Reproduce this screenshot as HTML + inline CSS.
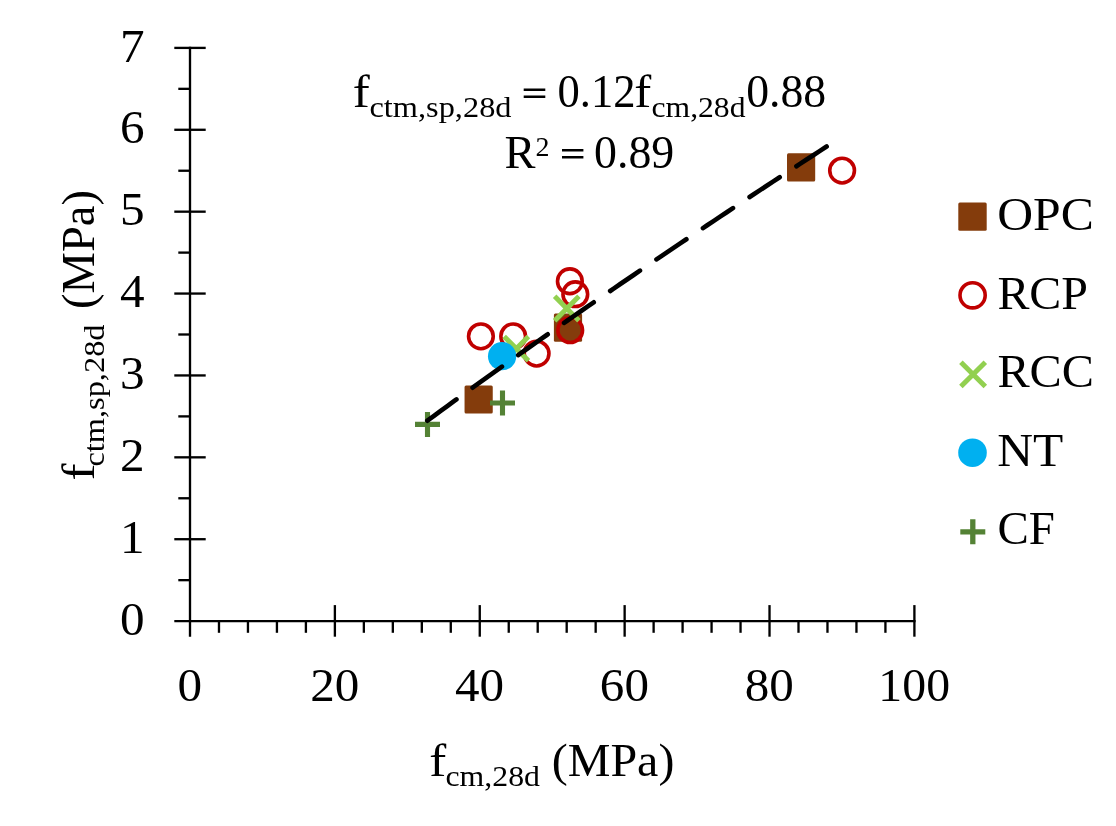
<!DOCTYPE html>
<html><head><meta charset="utf-8"><title>chart</title><style>
html,body{margin:0;padding:0;background:#fff;overflow:hidden}
svg{display:block}
text{font-family:"Liberation Serif",serif;fill:#000;filter:grayscale(1)}
</style></head><body>
<svg style="will-change:transform" width="1116" height="826" viewBox="0 0 1116 826">
<rect x="0" y="0" width="1116" height="826" fill="#fff"/>
<g stroke="#000" stroke-width="2.33" fill="none" stroke-linecap="butt">
<line x1="190.0" y1="46.73" x2="190.0" y2="636.70"/>
<line x1="174.30" y1="621.1" x2="915.56" y2="621.1"/>
<line x1="178.30" y1="580.16" x2="190.00" y2="580.16"/>
<line x1="174.30" y1="539.21" x2="205.70" y2="539.21"/>
<line x1="178.30" y1="498.27" x2="190.00" y2="498.27"/>
<line x1="174.30" y1="457.33" x2="205.70" y2="457.33"/>
<line x1="178.30" y1="416.39" x2="190.00" y2="416.39"/>
<line x1="174.30" y1="375.44" x2="205.70" y2="375.44"/>
<line x1="178.30" y1="334.50" x2="190.00" y2="334.50"/>
<line x1="174.30" y1="293.56" x2="205.70" y2="293.56"/>
<line x1="178.30" y1="252.61" x2="190.00" y2="252.61"/>
<line x1="174.30" y1="211.67" x2="205.70" y2="211.67"/>
<line x1="178.30" y1="170.73" x2="190.00" y2="170.73"/>
<line x1="174.30" y1="129.78" x2="205.70" y2="129.78"/>
<line x1="178.30" y1="88.84" x2="190.00" y2="88.84"/>
<line x1="174.30" y1="47.90" x2="205.70" y2="47.90"/>
<line x1="218.98" y1="621.10" x2="218.98" y2="632.80"/>
<line x1="247.95" y1="621.10" x2="247.95" y2="632.80"/>
<line x1="276.93" y1="621.10" x2="276.93" y2="632.80"/>
<line x1="305.90" y1="621.10" x2="305.90" y2="632.80"/>
<line x1="334.88" y1="605.10" x2="334.88" y2="636.70"/>
<line x1="363.86" y1="621.10" x2="363.86" y2="632.80"/>
<line x1="392.83" y1="621.10" x2="392.83" y2="632.80"/>
<line x1="421.81" y1="621.10" x2="421.81" y2="632.80"/>
<line x1="450.78" y1="621.10" x2="450.78" y2="632.80"/>
<line x1="479.76" y1="605.10" x2="479.76" y2="636.70"/>
<line x1="508.74" y1="621.10" x2="508.74" y2="632.80"/>
<line x1="537.71" y1="621.10" x2="537.71" y2="632.80"/>
<line x1="566.69" y1="621.10" x2="566.69" y2="632.80"/>
<line x1="595.66" y1="621.10" x2="595.66" y2="632.80"/>
<line x1="624.64" y1="605.10" x2="624.64" y2="636.70"/>
<line x1="653.62" y1="621.10" x2="653.62" y2="632.80"/>
<line x1="682.59" y1="621.10" x2="682.59" y2="632.80"/>
<line x1="711.57" y1="621.10" x2="711.57" y2="632.80"/>
<line x1="740.54" y1="621.10" x2="740.54" y2="632.80"/>
<line x1="769.52" y1="605.10" x2="769.52" y2="636.70"/>
<line x1="798.50" y1="621.10" x2="798.50" y2="632.80"/>
<line x1="827.47" y1="621.10" x2="827.47" y2="632.80"/>
<line x1="856.45" y1="621.10" x2="856.45" y2="632.80"/>
<line x1="885.42" y1="621.10" x2="885.42" y2="632.80"/>
<line x1="914.40" y1="605.10" x2="914.40" y2="636.70"/>
</g>
<g font-size="47" text-anchor="middle">
<text x="132.4" y="634.7" textLength="24.6" lengthAdjust="spacingAndGlyphs">0</text>
<text x="132.4" y="552.8" textLength="24.6" lengthAdjust="spacingAndGlyphs">1</text>
<text x="132.4" y="470.9" textLength="24.6" lengthAdjust="spacingAndGlyphs">2</text>
<text x="132.4" y="389.0" textLength="24.6" lengthAdjust="spacingAndGlyphs">3</text>
<text x="132.4" y="307.2" textLength="24.6" lengthAdjust="spacingAndGlyphs">4</text>
<text x="132.4" y="225.3" textLength="24.6" lengthAdjust="spacingAndGlyphs">5</text>
<text x="132.4" y="143.4" textLength="24.6" lengthAdjust="spacingAndGlyphs">6</text>
<text x="132.4" y="61.5" textLength="24.6" lengthAdjust="spacingAndGlyphs">7</text>
<text x="189.8" y="701" textLength="24.6" lengthAdjust="spacingAndGlyphs">0</text>
<text x="334.7" y="701" textLength="49.1" lengthAdjust="spacingAndGlyphs">20</text>
<text x="479.6" y="701" textLength="49.1" lengthAdjust="spacingAndGlyphs">40</text>
<text x="624.4" y="701" textLength="49.1" lengthAdjust="spacingAndGlyphs">60</text>
<text x="769.3" y="701" textLength="49.1" lengthAdjust="spacingAndGlyphs">80</text>
<text x="914.2" y="701" textLength="71.7" lengthAdjust="spacingAndGlyphs">100</text>
</g>
<rect x="464.55" y="385.40" width="28.2" height="28.2" rx="1.5" fill="#843C0C"/>
<rect x="553.90" y="313.60" width="28.2" height="28.2" rx="1.5" fill="#843C0C"/>
<rect x="787.00" y="153.30" width="28.2" height="28.2" rx="1.5" fill="#843C0C"/>
<circle cx="480.90" cy="336.35" r="12.35" fill="none" stroke="#C00000" stroke-width="3.6"/>
<circle cx="513.20" cy="336.35" r="12.35" fill="none" stroke="#C00000" stroke-width="3.6"/>
<circle cx="536.60" cy="353.60" r="12.35" fill="none" stroke="#C00000" stroke-width="3.6"/>
<circle cx="569.85" cy="281.25" r="12.35" fill="none" stroke="#C00000" stroke-width="3.6"/>
<circle cx="575.30" cy="294.20" r="12.35" fill="none" stroke="#C00000" stroke-width="3.6"/>
<circle cx="570.20" cy="330.15" r="12.35" fill="none" stroke="#C00000" stroke-width="3.6"/>
<circle cx="842.10" cy="170.60" r="12.35" fill="none" stroke="#C00000" stroke-width="3.6"/>
<path d="M504.15,336.55 L528.45,360.85 M504.15,360.85 L528.45,336.55" stroke="#92D050" stroke-width="5.0" fill="none" stroke-linecap="butt"/>
<path d="M554.65,296.35 L578.95,320.65 M554.65,320.65 L578.95,296.35" stroke="#92D050" stroke-width="5.0" fill="none" stroke-linecap="butt"/>
<circle cx="502.10" cy="356.20" r="14.15" fill="#00B0F0"/>
<path d="M415.00,424.40 L440.00,424.40 M427.50,411.90 L427.50,436.90" stroke="#548235" stroke-width="5.1" fill="none" stroke-linecap="butt"/>
<path d="M490.00,403.00 L515.00,403.00 M502.50,390.50 L502.50,415.50" stroke="#548235" stroke-width="5.1" fill="none" stroke-linecap="butt"/>
<path d="M427.35,420.70 L434.00,415.80 L440.66,410.91 L447.31,406.05 L453.97,401.20 L460.62,396.36 L467.28,391.54 L473.93,386.73 L480.58,381.94 L487.24,377.16 L493.89,372.39 L500.55,367.64 L507.20,362.90 L513.85,358.17 L520.51,353.46 L527.16,348.76 L533.82,344.06 L540.47,339.39 L547.12,334.72 L553.78,330.06 L560.43,325.41 L567.09,320.78 L573.74,316.15 L580.40,311.53 L587.05,306.93 L593.70,302.33 L600.36,297.75 L607.01,293.17 L613.67,288.60 L620.32,284.04 L626.98,279.49 L633.63,274.95 L640.28,270.42 L646.94,265.89 L653.59,261.38 L660.25,256.87 L666.90,252.37 L673.55,247.88 L680.21,243.39 L686.86,238.92 L693.52,234.45 L700.17,229.98 L706.83,225.53 L713.48,221.08 L720.13,216.64 L726.79,212.21 L733.44,207.78 L740.10,203.37 L746.75,198.95 L753.40,194.55 L760.06,190.15 L766.71,185.76 L773.37,181.37 L780.02,176.99 L786.68,172.62 L793.33,168.25 L799.98,163.89 L806.64,159.53 L813.29,155.18 L819.95,150.84 L826.60,146.50" fill="none" stroke="#000" stroke-width="4.67" stroke-linecap="round" stroke-dasharray="36.0 20.0" pathLength="484.0"/>
<rect x="958.30" y="202.40" width="28.4" height="28.4" rx="1.5" fill="#843C0C"/>
<circle cx="972.60" cy="295.30" r="12.6" fill="none" stroke="#C00000" stroke-width="3.6"/>
<path d="M960.90,362.20 L985.30,386.60 M960.90,386.60 L985.30,362.20" stroke="#92D050" stroke-width="5.0" fill="none" stroke-linecap="butt"/>
<circle cx="972.50" cy="452.70" r="14.3" fill="#00B0F0"/>
<path d="M960.30,531.80 L985.30,531.80 M972.80,519.30 L972.80,544.30" stroke="#548235" stroke-width="5.3" fill="none" stroke-linecap="butt"/>
<g font-size="46">
<text x="997.2" y="229.8" textLength="96.6" lengthAdjust="spacingAndGlyphs">OPC</text>
<text x="997.4" y="308.9" textLength="90.6" lengthAdjust="spacingAndGlyphs">RCP</text>
<text x="997.4" y="386.9" textLength="96.6" lengthAdjust="spacingAndGlyphs">RCC</text>
<text x="997.2" y="466" textLength="66" lengthAdjust="spacingAndGlyphs">NT</text>
<text x="997.4" y="544.4" textLength="57.4" lengthAdjust="spacingAndGlyphs">CF</text>
</g>
<g font-size="46">
<text x="352.8" y="107" textLength="17" lengthAdjust="spacingAndGlyphs">f</text>
<text x="369.5" y="117.2" font-size="30" textLength="142" lengthAdjust="spacingAndGlyphs">ctm,sp,28d</text>
<path d="M523.7,88.6h21.6v2.4h-21.6z M523.7,95.6h21.6v2.4h-21.6z" fill="#000"/>
<text x="557.5" y="107" textLength="78" lengthAdjust="spacingAndGlyphs">0.12</text>
<text x="634.3" y="107" textLength="17" lengthAdjust="spacingAndGlyphs">f</text>
<text x="651.5" y="117.2" font-size="30" textLength="94" lengthAdjust="spacingAndGlyphs">cm,28d</text>
<text x="746.2" y="107" textLength="80" lengthAdjust="spacingAndGlyphs">0.88</text>
<text x="504.6" y="168" textLength="31" lengthAdjust="spacingAndGlyphs">R</text>
<text x="535.5" y="155.5" font-size="28">2</text>
<path d="M562,149.1h21.4v2.4h-21.4z M562,156h21.4v2.4h-21.4z" fill="#000"/>
<text x="594" y="168" textLength="80.3" lengthAdjust="spacingAndGlyphs">0.89</text>
</g>
<g font-size="46">
<text x="429.3" y="776.1" textLength="17" lengthAdjust="spacingAndGlyphs">f</text>
<text x="445.5" y="786" font-size="30" textLength="94.5" lengthAdjust="spacingAndGlyphs">cm,28d</text>
<text x="551.8" y="776.1" textLength="122.6" lengthAdjust="spacingAndGlyphs">(MPa)</text>
</g>
<g font-size="46" transform="translate(93.6,479.5) rotate(-90)">
<text x="-1" y="0" textLength="17" lengthAdjust="spacingAndGlyphs">f</text>
<text x="13" y="10.3" font-size="30" textLength="142" lengthAdjust="spacingAndGlyphs">ctm,sp,28d</text>
<text x="170.5" y="0" textLength="119" lengthAdjust="spacingAndGlyphs">(MPa)</text>
</g>
</svg></body></html>
